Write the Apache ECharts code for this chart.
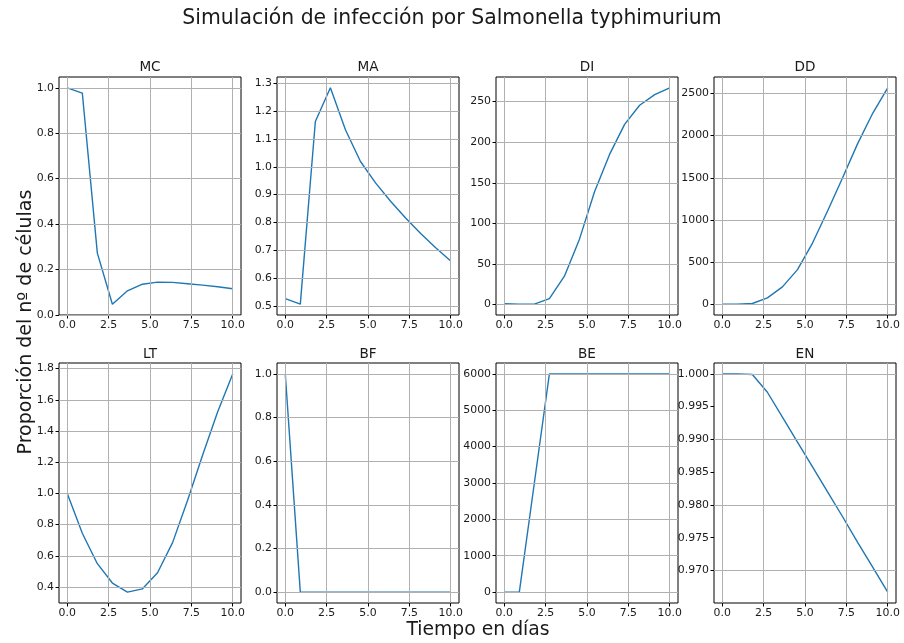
<!DOCTYPE html>
<html><head><meta charset="utf-8">
<script src="https://cdn.jsdelivr.net/npm/echarts@6/dist/echarts.min.js"></script>
<style>html,body{margin:0;padding:0;background:#fff}#c{width:904px;height:643px}</style>
</head><body><div id="c"></div>
<script>
// ---- data ----
const days = [0, 0.909, 1.818, 2.727, 3.636, 4.545, 5.455, 6.364, 7.273, 8.182, 9.091, 10];
const xTicks = ['0.0', '2.5', '5.0', '7.5', '10.0'];
const panelNames = ['MC', 'MA', 'DI', 'DD', 'LT', 'BF', 'BE', 'EN'];

const MC = [1.0, 0.977, 0.272, 0.047, 0.106, 0.135, 0.144, 0.143, 0.137, 0.131, 0.124, 0.115];
const MA = [0.526, 0.506, 1.163, 1.284, 1.133, 1.019, 0.942, 0.876, 0.816, 0.760, 0.709, 0.661];
const DI = [1, 0.5, 0.5, 7.4, 35, 80.6, 139, 185, 222, 245.5, 258.6, 267];
const DD = [0, 0, 8, 75, 205, 410, 725, 1105, 1500, 1905, 2265, 2567];
const LT = [1.0, 0.745, 0.55, 0.426, 0.368, 0.389, 0.492, 0.685, 0.957, 1.246, 1.524, 1.766];
const BF = [1.0, 0, 0, 0, 0, 0, 0, 0, 0, 0, 0, 0];
const BE = [0, 0, 3000, 6000, 6000, 6000, 6000, 6000, 6000, 6000, 6000, 6000];
const EN = [1.0, 1.0, 0.9999, 0.9972, 0.9934, 0.9896, 0.9858, 0.9820, 0.9782, 0.9743, 0.9705, 0.9667];

const yTicksMC = ['0.0', '0.2', '0.4', '0.6', '0.8', '1.0'];
const yTicksMA = ['0.5', '0.6', '0.7', '0.8', '0.9', '1.0', '1.1', '1.2', '1.3'];
const yTicksDI = ['0', '50', '100', '150', '200', '250'];
const yTicksDD = ['0', '500', '1000', '1500', '2000', '2500'];
const yTicksLT = ['0.4', '0.6', '0.8', '1.0', '1.2', '1.4', '1.6', '1.8'];
const yTicksBF = ['0.0', '0.2', '0.4', '0.6', '0.8', '1.0'];
const yTicksBE = ['0', '1000', '2000', '3000', '4000', '5000', '6000'];
const yTicksEN = ['0.970', '0.975', '0.980', '0.985', '0.990', '0.995', '1.000'];

const seriesData = [MC, MA, DI, DD, LT, BF, BE, EN];
const yTicks = [yTicksMC, yTicksMA, yTicksDI, yTicksDD, yTicksLT, yTicksBF, yTicksBE, yTicksEN];

const mainTitle = 'Simulación de infección por Salmonella typhimurium';
const xLabel = 'Tiempo en días';
const yLabel = 'Proporción del nº de células';

// ---- layout ----
const colLeft = [59, 277, 496, 714];
const colW = 182;
const rowTop = [77, 363];
const rowH = [238, 240];
const FONT = '"DejaVu Sans", sans-serif';
const TXT = '#1a1a1a';

function fmt(labels) {
  const dec = (labels[0].split('.')[1] || '').length;
  return v => Number(v).toFixed(dec);
}

const grids = [], xAxes = [], yAxes = [], series = [], graphics = [];
for (let i = 0; i < 8; i++) {
  const r = Math.floor(i / 4), c = i % 4;
  grids.push({
    left: colLeft[c], top: rowTop[r], width: colW, height: rowH[r],
    show: true, borderColor: '#000', borderWidth: 1, backgroundColor: 'transparent',
    containLabel: false, z: 3
  });
  const xt = xTicks.map(Number);
  xAxes.push({
    type: 'value', gridIndex: i, min: -0.5, max: 10.5,
    axisLine: { show: false, onZero: false },
    axisTick: { show: true, length: 3.5, customValues: xt, lineStyle: { color: '#000', width: 1 } },
    axisLabel: { customValues: xt, margin: 5, fontSize: 10.9, fontFamily: FONT, color: TXT, formatter: fmt(xTicks), hideOverlap: false },
    splitLine: { show: false }
  });
  const yt = yTicks[i].map(Number);
  yAxes.push({
    type: 'value', gridIndex: i,
    min: v => v.min - 0.05 * (v.max - v.min),
    max: v => v.max + 0.05 * (v.max - v.min),
    axisLine: { show: false, onZero: false },
    axisTick: { show: true, length: 3.5, customValues: yt, lineStyle: { color: '#000', width: 1 } },
    axisLabel: { customValues: yt, margin: 5, fontSize: 10.9, fontFamily: FONT, color: TXT, formatter: fmt(yTicks[i]), hideOverlap: false },
    splitLine: { show: false }
  });
  const pts = days.map((d, k) => [d, seriesData[i][k]]);
  // grid lines host (below the data line)
  series.push({
    type: 'line', xAxisIndex: i, yAxisIndex: i, z: 1,
    data: pts, showSymbol: false, symbol: 'none', silent: true,
    lineStyle: { opacity: 0 }, animation: false,
    markLine: {
      silent: true, symbol: ['none', 'none'], animation: false,
      label: { show: false },
      lineStyle: { color: '#b0b0b0', type: 'solid', width: 1 },
      emphasis: { disabled: true },
      data: xt.map(v => ({ xAxis: v })).concat(yt.map(v => ({ yAxis: v })))
    }
  });
  series.push({
    type: 'line', xAxisIndex: i, yAxisIndex: i, z: 2,
    data: pts,
    showSymbol: false, symbol: 'none', silent: true,
    lineStyle: { color: '#1f77b4', width: 1.4 },
    animation: false
  });
  graphics.push({
    type: 'text', x: colLeft[c] + colW / 2, y: r === 0 ? 67.5 : 354.5,
    style: { text: panelNames[i], font: '13.6px ' + FONT, fill: TXT, textAlign: 'center', textVerticalAlign: 'middle' }
  });
}
graphics.push({
  type: 'text', x: 452, y: 18.5,
  style: { text: mainTitle, font: '20.4px ' + FONT, fill: TXT, textAlign: 'center', textVerticalAlign: 'middle' }
});
graphics.push({
  type: 'text', x: 478, y: 630.5,
  style: { text: xLabel, font: '18.8px ' + FONT, fill: TXT, textAlign: 'center', textVerticalAlign: 'middle' }
});
graphics.push({
  type: 'text', x: 26, y: 322, rotation: Math.PI / 2,
  style: { text: yLabel, font: '19px ' + FONT, fill: TXT, textAlign: 'center', textVerticalAlign: 'middle' }
});

const chart = echarts.init(document.getElementById('c'), null, { renderer: 'canvas' });
chart.setOption({
  backgroundColor: '#fff',
  animation: false,
  grid: grids, xAxis: xAxes, yAxis: yAxes, series: series,
  graphic: graphics
});
</script>
</body></html>
